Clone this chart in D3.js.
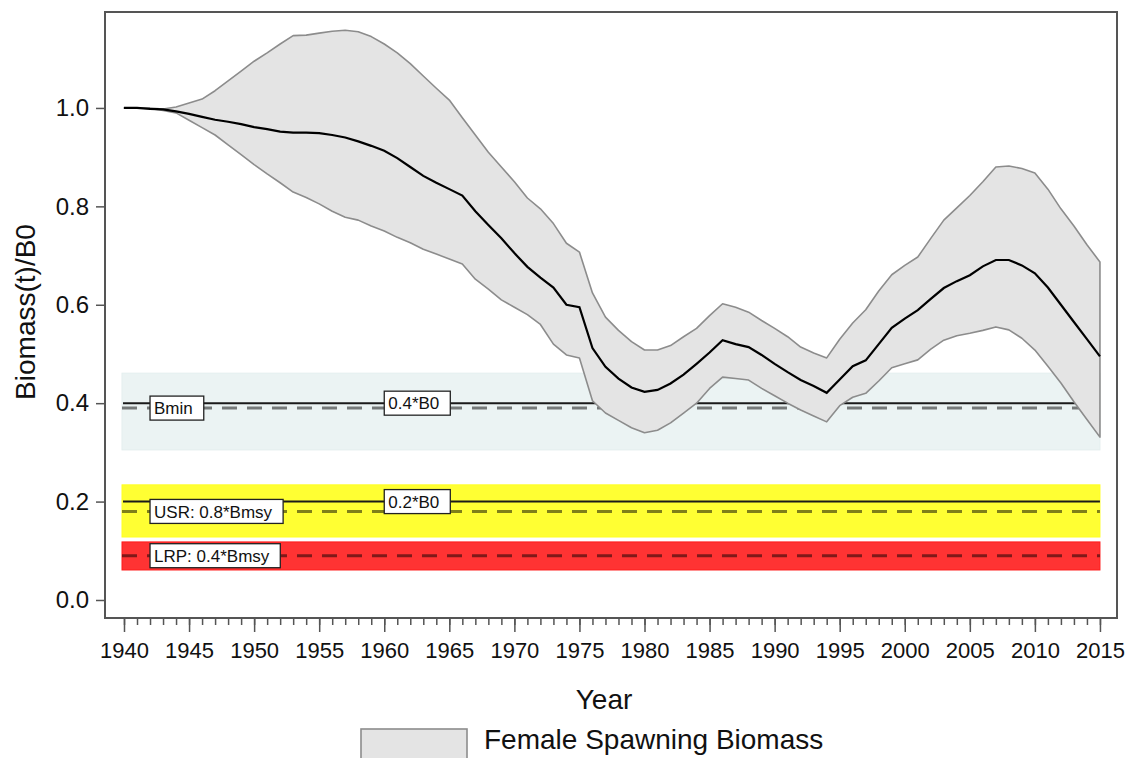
<!DOCTYPE html>
<meta charset="utf-8">
<html>
<head>
<title>Female Spawning Biomass</title>
<script src="https://d3js.org/d3.v7.min.js"></script>
<style>
  body { margin: 0; background: #fff; }
  text { font-family: "Liberation Sans", Arial, sans-serif; fill: #111; }
</style>
</head>
<body>
<script type="text/javascript">

// ---- data ----
var startYear = 1940;

// median relative biomass, one value per year 1940..2015
var median = [
  1.000, 1.000, 0.998, 0.997, 0.993, 0.988, 0.982, 0.976, 0.972, 0.967,
  0.961, 0.957, 0.952, 0.950, 0.950, 0.949, 0.945, 0.940, 0.932, 0.923,
  0.913, 0.898, 0.880, 0.862, 0.848, 0.835, 0.822, 0.790, 0.762, 0.735,
  0.705, 0.677, 0.655, 0.635, 0.600, 0.595, 0.512, 0.474, 0.450, 0.432,
  0.423, 0.427, 0.440, 0.458, 0.480, 0.503, 0.528, 0.520, 0.514, 0.498,
  0.480, 0.463, 0.447, 0.435, 0.421, 0.448, 0.475, 0.487, 0.520, 0.553,
  0.572, 0.589, 0.612, 0.634, 0.648, 0.660, 0.678, 0.691, 0.691, 0.680,
  0.664, 0.635, 0.600, 0.565, 0.530, 0.495
];

// upper bound of the interval
var upper = [
  1.000, 1.000, 1.000, 0.998, 1.002, 1.010, 1.018, 1.035, 1.055, 1.075,
  1.095, 1.112, 1.130, 1.147, 1.148, 1.152, 1.156, 1.158, 1.155, 1.145,
  1.130, 1.112, 1.090, 1.065, 1.040, 1.016, 0.980, 0.945, 0.910, 0.880,
  0.850, 0.817, 0.795, 0.765, 0.725, 0.707, 0.624, 0.575, 0.548, 0.525,
  0.508, 0.508, 0.517, 0.535, 0.552, 0.578, 0.602, 0.595, 0.585, 0.568,
  0.552, 0.535, 0.514, 0.502, 0.492, 0.530, 0.563, 0.590, 0.628, 0.661,
  0.680, 0.697, 0.735, 0.772, 0.797, 0.822, 0.850, 0.880, 0.882, 0.877,
  0.868, 0.835, 0.795, 0.760, 0.722, 0.687
];

// lower bound of the interval
var lower = [
  1.000, 1.000, 0.999, 0.995, 0.990, 0.975, 0.960, 0.945, 0.925, 0.905,
  0.885, 0.866, 0.848, 0.829, 0.818, 0.805, 0.790, 0.778, 0.772, 0.760,
  0.750, 0.737, 0.726, 0.713, 0.703, 0.693, 0.683, 0.652, 0.632, 0.610,
  0.595, 0.580, 0.560, 0.520, 0.498, 0.492, 0.405, 0.380, 0.365, 0.350,
  0.340, 0.345, 0.360, 0.380, 0.400, 0.430, 0.453, 0.450, 0.447, 0.430,
  0.415, 0.400, 0.386, 0.374, 0.362, 0.395, 0.412, 0.420, 0.445, 0.472,
  0.480, 0.488, 0.510, 0.528, 0.537, 0.542, 0.548, 0.555, 0.549, 0.532,
  0.508, 0.475, 0.441, 0.403, 0.367, 0.331
];

// reference bands (low, high) and reference lines
var bandLow  = [0.305, 0.128, 0.061];
var bandHigh = [0.461, 0.234, 0.118];
var solidRefs  = [0.4, 0.2];
var dashedRefs = [0.39, 0.18, 0.09];

// boxed labels
var labelTexts  = ["Bmin", "0.4*B0", "USR: 0.8*Bmsy", "0.2*B0", "LRP: 0.4*Bmsy"];
var labelYears  = [1942, 1960, 1942, 1960, 1942];
var labelValues = [0.39, 0.4, 0.18, 0.2, 0.09];

var yTicks = [0.0, 0.2, 0.4, 0.6, 0.8, 1.0];
var xTicks = [1940, 1945, 1950, 1955, 1960, 1965, 1970, 1975, 1980, 1985, 1990, 1995, 2000, 2005, 2010, 2015];

drawChart();

function drawChart() {

  // ---- layout ----
  var width = 1127, height = 758;
  var plotLeft = 105, plotRight = 1117, plotTop = 12, plotBottom = 618;
  var fontStack = "'Liberation Sans', Arial, sans-serif";

  var years = median.map(function(d, i) { return startYear + i; });
  var firstYear = years[0], lastYear = years[years.length - 1];

  var x = d3.scaleLinear().domain([1938.54, 2016.31]).range([plotLeft, plotRight]);
  var y = d3.scaleLinear().domain([-0.0366, 1.195]).range([plotBottom, plotTop]);

  var svg = d3.select("body").append("svg")
    .attr("width", width)
    .attr("height", height);

  // bands
  var bandFill = ["#ebf3f3", "#ffff33", "#ff3333"];
  var bandStroke = ["#e4eeee", "#ffff22", "#ff1a1a"];
  svg.append("g").selectAll("rect")
    .data(bandLow)
    .enter().append("rect")
    .attr("x", x(firstYear) - 2)
    .attr("width", x(lastYear) - x(firstYear) + 2)
    .attr("y", function(d, i) { return y(bandHigh[i]); })
    .attr("height", function(d, i) { return y(d) - y(bandHigh[i]); })
    .style("fill", function(d, i) { return bandFill[i]; })
    .style("stroke", function(d, i) { return bandStroke[i]; })
    .style("stroke-width", 1);

  // solid reference lines
  svg.append("g").selectAll("line")
    .data(solidRefs)
    .enter().append("line")
    .attr("x1", x(firstYear) - 1).attr("x2", x(lastYear))
    .attr("y1", function(d) { return y(d); })
    .attr("y2", function(d) { return y(d); })
    .style("stroke", "#1a1a1a")
    .style("stroke-width", 2);

  // dashed reference lines
  svg.append("g").selectAll("line")
    .data(dashedRefs)
    .enter().append("line")
    .attr("x1", x(firstYear) - 2).attr("x2", x(lastYear))
    .attr("y1", function(d) { return y(d); })
    .attr("y2", function(d) { return y(d); })
    .style("stroke", "#000")
    .style("stroke-opacity", 0.5)
    .style("stroke-width", 3)
    .style("stroke-dasharray", "15,10");

  // uncertainty envelope
  var area = d3.area()
    .x(function(d, i) { return x(years[i]); })
    .y0(function(d, i) { return y(lower[i]); })
    .y1(function(d) { return y(d); });

  svg.append("path")
    .datum(upper)
    .attr("d", area)
    .style("fill", "#e4e4e4")
    .style("stroke", "#8c8c8c")
    .style("stroke-width", 1.6)
    .style("stroke-linejoin", "round");

  // median line
  var line = d3.line()
    .x(function(d, i) { return x(years[i]); })
    .y(function(d) { return y(d); });

  svg.append("path")
    .datum(median)
    .attr("d", line)
    .style("fill", "none")
    .style("stroke", "#000")
    .style("stroke-width", 2.2);

  // boxed labels
  var labels = svg.append("g").selectAll("g")
    .data(labelTexts)
    .enter().append("g")
    .attr("transform", function(d, i) {
      return "translate(" + x(labelYears[i]) + "," + y(labelValues[i]) + ")";
    });

  labels.append("rect")
    .attr("y", -12)
    .attr("height", 24)
    .style("fill", "#fff")
    .style("stroke", "#222")
    .style("stroke-width", 1.3);

  labels.append("text")
    .attr("x", 4)
    .attr("dy", "0.36em")
    .style("font-size", "17px")
    .text(function(d) { return d; })
    .each(function() {
      var w = this.getComputedTextLength();
      d3.select(this.parentNode).select("rect").attr("width", w + 15);
    });

  // frame
  svg.append("rect")
    .attr("x", plotLeft).attr("y", plotTop)
    .attr("width", plotRight - plotLeft).attr("height", plotBottom - plotTop)
    .style("fill", "none")
    .style("stroke", "#555")
    .style("stroke-width", 2);

  // y axis
  var yAxis = d3.axisLeft(y).tickValues(yTicks).tickSize(9).tickPadding(7)
    .tickFormat(d3.format(".1f"));
  var gy = svg.append("g").attr("transform", "translate(" + plotLeft + ",0)").call(yAxis);
  gy.select(".domain").remove();
  gy.selectAll("line").style("stroke", "#555").style("stroke-width", 1.5);
  gy.selectAll("text").style("font-size", "24px").style("font-family", fontStack).style("fill", "#111");

  // x axis: minor ticks every year, major every 5
  var xMinor = d3.axisBottom(x).tickValues(years).tickSize(7).tickFormat("");
  var gxm = svg.append("g").attr("transform", "translate(0," + plotBottom + ")").call(xMinor);
  gxm.select(".domain").remove();
  gxm.selectAll("line").style("stroke", "#555").style("stroke-width", 1.5);

  var xAxis = d3.axisBottom(x).tickValues(xTicks).tickSize(14).tickPadding(10)
    .tickFormat(d3.format("d"));
  var gx = svg.append("g").attr("transform", "translate(0," + plotBottom + ")").call(xAxis);
  gx.select(".domain").remove();
  gx.selectAll("line").style("stroke", "#555").style("stroke-width", 1.5);
  gx.selectAll("text").style("font-size", "22px").style("font-family", fontStack).style("fill", "#111");

  // axis titles
  svg.append("text")
    .attr("x", 604).attr("y", 709)
    .attr("text-anchor", "middle")
    .style("font-size", "28px")
    .text("Year");

  svg.append("text")
    .attr("transform", "translate(35,312) rotate(-90)")
    .attr("text-anchor", "middle")
    .style("font-size", "28px")
    .text("Biomass(t)/B0");

  // legend
  svg.append("rect")
    .attr("x", 361).attr("y", 729)
    .attr("width", 106).attr("height", 30)
    .style("fill", "#e4e4e4")
    .style("stroke", "#8c8c8c")
    .style("stroke-width", 1.6);

  svg.append("text")
    .attr("x", 484).attr("y", 749)
    .style("font-size", "28px")
    .text("Female Spawning Biomass");
}

</script>
</body>
</html>
